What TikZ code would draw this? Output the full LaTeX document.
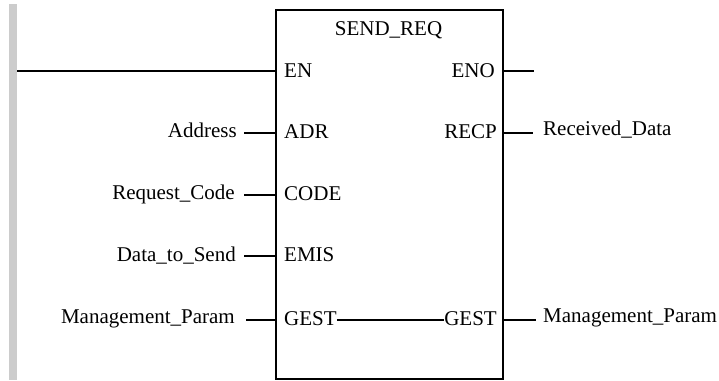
\documentclass[tikz,border=0pt]{standalone}
\usepackage{fontspec}
\setmainfont{Liberation Serif}
\begin{document}
\begin{tikzpicture}[x=1pt,y=-1pt,
  lbl/.style={inner sep=0pt,font=\fontsize{21}{25}\selectfont},
  wire/.style={line width=1.8pt},
  frame/.style={line width=1.8pt}]
\useasboundingbox (0,0) rectangle (719,380);
% gray bar
\fill[gray!40] (9,4) rectangle (17,380);
% block
\draw[frame] (276,10) rectangle (503,379);
\node[lbl,anchor=base] (title) at (388.5,35) {SEND\_REQ};
% pin names
\node[lbl,anchor=base west] (en) at (284,77) {EN};
\node[lbl,anchor=base east] (eno) at (495,77) {ENO};
\node[lbl,anchor=base west] (adr) at (284,138.5) {ADR};
\node[lbl,anchor=base east] (recp) at (497,138.5) {RECP};
\node[lbl,anchor=base west] (code) at (284,200.5) {CODE};
\node[lbl,anchor=base west] (emis) at (284,261.5) {EMIS};
\node[lbl,anchor=base west] (gestin) at (284,325.5) {GEST};
\node[lbl,anchor=base east] (gestout) at (497,325.5) {GEST};
% coordinates on the block edge
\coordinate (rail) at (17,71);
\coordinate (enL) at (276,71);
\coordinate (enoR) at (503,71);
\coordinate (enoE) at (534,71);
\coordinate (adrL) at (276,133);
\coordinate (recpR) at (503,133);
\coordinate (codeL) at (276,195);
\coordinate (emisL) at (276,256);
\coordinate (gestL) at (276,320);
\coordinate (gestR) at (503,320);
% outside labels
\node[lbl,anchor=base east] (address) at (237,137) {Address};
\node[lbl,anchor=base east] (reqcode) at (235,199) {Request\_Code};
\node[lbl,anchor=base east] (data) at (236,261) {Data\_to\_Send};
\node[lbl,anchor=base east] (mgmtin) at (235,323) {Management\_Param};
\node[lbl,anchor=base west] (recv) at (543,135) {Received\_Data};
\node[lbl,anchor=base west] (mgmtout) at (543,322) {Management\_Param};
\coordinate (addrE) at (244,133);
\coordinate (reqE) at (244,195);
\coordinate (dataE) at (244,256);
\coordinate (mgmtE) at (246,320);
\coordinate (recvW) at (533,133);
\coordinate (mgmtW) at (536,320);
% wires
\draw[wire] (rail) -- (enL);
\draw[wire] (enoR) -- (enoE);
\draw[wire] (addrE) -- (adrL);
\draw[wire] (reqE) -- (codeL);
\draw[wire] (dataE) -- (emisL);
\draw[wire] (mgmtE) -- (gestL);
\draw[wire] (recpR) -- (recvW);
\draw[wire] (gestR) -- (mgmtW);
\draw[wire] (gestin.east |- gestL) -- (gestout.west |- gestL);
\end{tikzpicture}
\end{document}
